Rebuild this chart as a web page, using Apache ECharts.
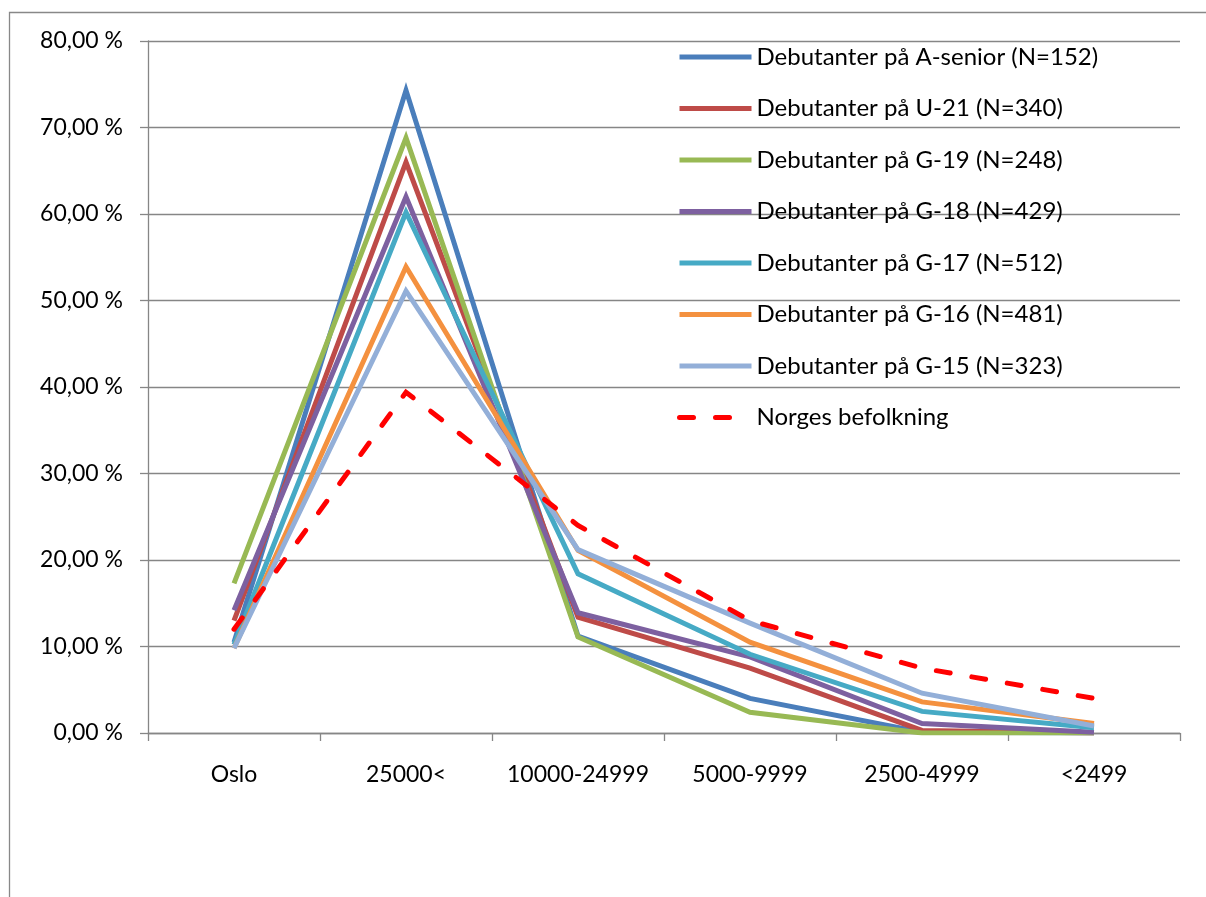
<!DOCTYPE html>
<html>
<head>
<meta charset="utf-8">
<script src="https://cdn.jsdelivr.net/npm/echarts@6/dist/echarts.min.js"></script>
<style>
  html, body { margin: 0; padding: 0; background: #fff; }
  #chart { width: 1206px; height: 897px; }
</style>
</head>
<body>
<div id="chart"></div>
<script>
// Share of debutants by size of home municipality (%)
const categories = ['Oslo', '25000<', '10000-24999', '5000-9999', '2500-4999', '<2499'];

const seriesNames = [
  'Debutanter på A-senior (N=152)',
  'Debutanter på U-21 (N=340)',
  'Debutanter på G-19 (N=248)',
  'Debutanter på G-18 (N=429)',
  'Debutanter på G-17 (N=512)',
  'Debutanter på G-16 (N=481)',
  'Debutanter på G-15 (N=323)',
  'Norges befolkning'
];

const aSenior    = [10.5, 74.3, 11.2, 4.0, 0.1, 0.0];
const u21        = [13.0, 66.0, 13.4, 7.5, 0.3, 0.0];
const g19        = [17.3, 68.8, 11.1, 2.4, 0.0, 0.0];
const g18        = [14.2, 62.0, 13.9, 8.8, 1.1, 0.1];
const g17        = [10.2, 60.2, 18.4, 9.1, 2.5, 0.6];
const g16        = [9.8, 53.9, 21.1, 10.5, 3.6, 1.1];
const g15        = [9.8, 51.1, 21.2, 12.7, 4.6, 0.8];
const befolkning = [12.0, 39.4, 24.0, 13.0, 7.5, 4.0];

const yTicks = { min: 0, max: 80, interval: 10 };

const colors = ['#4A7EBB', '#BE4B48', '#98B954', '#7D60A0', '#46AAC5', '#F4913F', '#93AFD8', '#FF0000'];
const dataSets = [aSenior, u21, g19, g18, g17, g16, g15, befolkning];

const FONT = 'Lato, "Liberation Sans", sans-serif';

const series = dataSets.map((d, i) => ({
  name: seriesNames[i],
  type: 'line',
  data: d,
  symbol: 'none',
  lineStyle: {
    width: 5,
    color: colors[i],
    type: i === 7 ? [14, 22] : 'solid',
    cap: i === 7 ? 'round' : 'butt',
    join: 'miter'
  },
  itemStyle: { color: colors[i] }
}));

const chart = echarts.init(document.getElementById('chart'), null, { renderer: 'canvas' });
chart.setOption({
  animation: false,
  backgroundColor: '#fff',
  graphic: [{
    type: 'rect',
    shape: { x: 9.5, y: 12.5, width: 1400, height: 1000 },
    style: { fill: 'none', stroke: '#888', lineWidth: 1.3 },
    silent: true,
    z: -1
  }],
  grid: { left: 148, right: 26, top: 41, bottom: 164, containLabel: false },
  legend: {
    orient: 'vertical',
    left: 672,
    top: 40,
    itemWidth: 72,
    itemHeight: 14,
    itemGap: 27.5,
    itemStyle: { opacity: 0 },
    lineStyle: { width: 5 },
    textStyle: { fontFamily: FONT, fontSize: 24, color: '#000', lineHeight: 24 },
    data: seriesNames
  },
  xAxis: {
    type: 'category',
    data: categories,
    boundaryGap: true,
    axisLine: { lineStyle: { color: '#868686', width: 1.3 } },
    axisTick: { show: true, interval: 0, length: 8, lineStyle: { color: '#868686', width: 1.3 } },
    axisLabel: { interval: 0, color: '#000', fontFamily: FONT, fontSize: 23, margin: 30 },
    splitLine: { show: false }
  },
  yAxis: {
    type: 'value',
    min: yTicks.min,
    max: yTicks.max,
    interval: yTicks.interval,
    axisLine: { show: true, lineStyle: { color: '#868686', width: 1.3 } },
    axisTick: { show: true, length: 8, lineStyle: { color: '#868686', width: 1.3 } },
    axisLabel: {
      color: '#000', fontFamily: FONT, fontSize: 23, margin: 25,
      formatter: v => v.toFixed(2).replace('.', ',') + ' %'
    },
    splitLine: { lineStyle: { color: '#868686', width: 1.3 } }
  },
  series: series
});
</script>
</body>
</html>
